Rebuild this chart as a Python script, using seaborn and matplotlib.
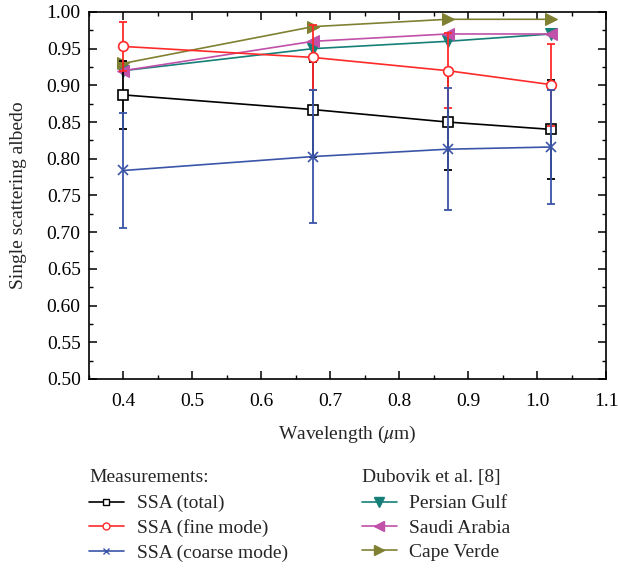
import numpy as np
import pandas as pd
import matplotlib.pyplot as plt
import seaborn as sns
from matplotlib.lines import Line2D
from matplotlib.ticker import MultipleLocator


# DATA
wavelength = [0.4, 0.675, 0.87, 1.02]

ssa_total = [0.887, 0.867, 0.850, 0.840]
ssa_total_err = [0.046, 0.065, 0.065, 0.067]

ssa_fine = [0.953, 0.938, 0.920, 0.901]
ssa_fine_err = [0.033, 0.044, 0.051, 0.056]

ssa_coarse = [0.784, 0.803, 0.813, 0.816]
ssa_coarse_err = [0.079, 0.091, 0.083, 0.077]

persian_gulf = [0.92, 0.95, 0.96, 0.97]
saudi_arabia = [0.92, 0.96, 0.97, 0.97]
cape_verde = [0.93, 0.98, 0.99, 0.99]


# STYLE
sns.set_theme(style="ticks")
plt.rcParams["font.family"] = ["Liberation Serif", "DejaVu Serif"]
plt.rcParams["mathtext.fontset"] = "stix"
plt.rcParams["font.size"] = 14

fig = plt.figure(figsize=(6.18, 5.69), dpi=100)
ax = fig.add_axes([0.144, 0.334, 0.837, 0.645])

measured = [
    ("SSA (total)", ssa_total, ssa_total_err, "black", "s"),
    ("SSA (fine mode)", ssa_fine, ssa_fine_err, "#ff2a2a", "o"),
    ("SSA (coarse mode)", ssa_coarse, ssa_coarse_err, "#3a55a8", "x"),
]

dubovik = [
    ("Persian Gulf", persian_gulf, "#157f78", "v"),
    ("Saudi Arabia", saudi_arabia, "#c050a8", "<"),
    ("Cape Verde", cape_verde, "#808033", ">"),
]

# Dubovik curves
dub_handles = []
for name, vals, color, marker in dubovik:
    df = pd.DataFrame({"wl": wavelength, "ssa": vals})
    sns.lineplot(
        data=df, x="wl", y="ssa", ax=ax,
        color=color, marker=marker, markersize=9,
        markeredgecolor=color, linewidth=1.2
    )
    dub_handles.append(Line2D([], [], color=color, marker=marker,
                              markersize=7, linewidth=1.2))

# Measurement curves with error bars
meas_handles = []
for name, vals, err, color, marker in measured:
    ax.errorbar(
        wavelength, vals, yerr=err, fmt="none",
        ecolor=color, elinewidth=1.3, capsize=3, capthick=1.3
    )
    df = pd.DataFrame({"wl": wavelength, "ssa": vals})
    mfc = "white" if marker in ("s", "o") else color
    sns.lineplot(
        data=df, x="wl", y="ssa", ax=ax,
        color=color, marker=marker, markersize=7,
        markerfacecolor=mfc, markeredgecolor=color,
        markeredgewidth=1.2, linewidth=1.2
    )
    meas_handles.append(Line2D([], [], color=color, marker=marker,
                               markersize=5, markerfacecolor=mfc,
                               markeredgecolor=color, linewidth=1.2))


# AXES
ax.set_xlim(0.35, 1.1)
ax.set_ylim(0.5, 1.0)
ax.xaxis.set_major_locator(MultipleLocator(0.1))
ax.xaxis.set_minor_locator(MultipleLocator(0.05))
ax.yaxis.set_major_locator(MultipleLocator(0.05))
ax.yaxis.set_minor_locator(MultipleLocator(0.025))
ax.xaxis.set_major_formatter(plt.FuncFormatter(lambda v, p: f"{v:.1f}"))
ax.yaxis.set_major_formatter(plt.FuncFormatter(lambda v, p: f"{v:.2f}"))
ax.tick_params(which="both", direction="in", top=True, right=True,
               labelsize=14, colors="black")
ax.tick_params(which="major", length=6, width=1.1)
ax.tick_params(which="minor", length=3, width=1.0)
ax.tick_params(axis="x", which="major", pad=10)
ax.tick_params(axis="y", which="major", pad=6)
for s in ax.spines.values():
    s.set_linewidth(1.2)
    s.set_color("black")

ax.set_xlabel(r"Wavelength ($\mu$m)", fontsize=14, labelpad=10)
ax.set_ylabel("Single scattering albedo", fontsize=14, labelpad=14)


# LEGENDS
leg_kw = dict(
    loc="upper left", frameon=False, alignment="left",
    fontsize=14, title_fontsize=14, handlelength=1.8,
    labelspacing=0.35, borderaxespad=0, borderpad=0,
    handletextpad=0.65
)
leg1 = fig.legend(
    meas_handles, [m[0] for m in measured],
    title="Measurements:", bbox_to_anchor=(0.144, 0.175), **leg_kw
)
leg2 = fig.legend(
    dub_handles, [d[0] for d in dubovik],
    title="Dubovik et al. [8]", bbox_to_anchor=(0.585, 0.175), **leg_kw
)
for leg in (leg1, leg2):
    leg._legend_box.sep = 6

fig.savefig("out.png", dpi=100)
